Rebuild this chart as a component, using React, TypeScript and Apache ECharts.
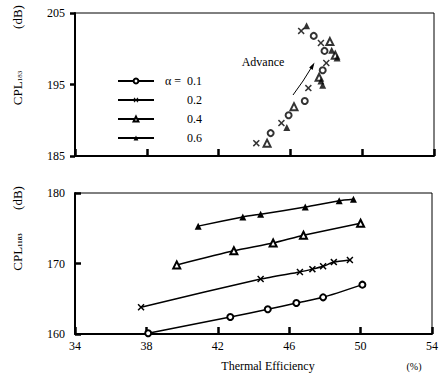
import React, { useEffect, useRef } from "react";
import * as echarts from "echarts";

// Top panel (scatter): [thermal efficiency %, CPL dB]
const topA01 = [[44.9, 188.2], [45.9, 190.7], [46.8, 192.7], [47.8, 197.0], [47.9, 199.7], [47.3, 201.8]];
const topA02 = [[44.1, 186.8], [45.5, 189.6], [47.0, 194.5], [48.0, 198.0], [47.7, 200.8], [46.6, 202.5]];
const topA04 = [[44.7, 186.8], [46.2, 191.9], [47.6, 196.0], [48.2, 201.0], [48.5, 199.1]];
const topA06 = [[45.8, 189.0], [47.7, 195.5], [47.8, 194.9], [48.3, 199.8], [48.6, 198.7], [46.9, 203.2]];

// Bottom panel (lines)
const botA01 = [[38.1, 160.1], [42.7, 162.4], [44.8, 163.5], [46.4, 164.4], [47.9, 165.2], [50.1, 167.0]];
const botA02 = [[37.7, 163.8], [44.4, 167.8], [46.6, 168.8], [47.3, 169.2], [47.9, 169.6], [48.5, 170.2], [49.4, 170.5]];
const botA04 = [[39.7, 169.8], [42.9, 171.8], [45.1, 172.9], [46.8, 174.0], [50.0, 175.7]];
const botA06 = [[40.9, 175.3], [43.4, 176.6], [44.4, 177.0], [46.9, 178.0], [48.8, 178.9], [49.6, 179.1]];

const alphaNames = ["0.1", "0.2", "0.4", "0.6"];
const xMin = 34, xMax = 54, xStep = 4;
const topYMin = 185, topYMax = 205, botYMin = 160, botYMax = 180, yStep = 10;

const FONT = "'Liberation Serif', 'DejaVu Serif', serif";
const X_PATH = "path://M0,1.5 L1.5,0 L5,3.5 L8.5,0 L10,1.5 L6.5,5 L10,8.5 L8.5,10 L5,6.5 L1.5,10 L0,8.5 L3.5,5 Z";

const symbolDefs = [
  { symbol: "emptyCircle", size: 6, itemStyle: { color: "#000", borderWidth: 1.6 } },
  { symbol: X_PATH, size: 7, itemStyle: { color: "#000", borderWidth: 0 } },
  { symbol: "emptyTriangle", size: 7, itemStyle: { color: "#000", borderWidth: 1.5 } },
  { symbol: "triangle", size: 7, itemStyle: { color: "#000", borderWidth: 0 } },
];

export default function App() {
  const ref = useRef<HTMLDivElement>(null);
  useEffect(() => {
    document.body.style.margin = "0";
    const chart = echarts.init(ref.current!, null, { renderer: "svg" });
    const botData = [botA01, botA02, botA04, botA06];
    const topData = [topA01, topA02, topA04, topA06];

    const series: any[] = [];
    botData.forEach((d, i) => {
      series.push({
        name: alphaNames[i],
        type: "line",
        xAxisIndex: 1,
        yAxisIndex: 1,
        data: d,
        smooth: 0.2,
        symbol: symbolDefs[i].symbol,
        symbolSize: symbolDefs[i].size,
        showSymbol: true,
        itemStyle: symbolDefs[i].itemStyle,
        lineStyle: { color: "#000", width: 1.5 },
      });
    });
    topData.forEach((d, i) => {
      series.push({
        name: alphaNames[i],
        type: "scatter",
        xAxisIndex: 0,
        yAxisIndex: 0,
        data: d,
        symbol: symbolDefs[i].symbol,
        symbolSize: symbolDefs[i].size,
        itemStyle: symbolDefs[i].itemStyle,
      });
    });

    const xTick = { show: true, inside: true, length: 7, lineStyle: { color: "#000", width: 2.5 } };

    chart.setOption({
      animation: false,
      backgroundColor: "#fff",
      grid: [
        { left: 75, top: 13, width: 359, height: 143, show: true, borderColor: "#000", borderWidth: 1 },
        { left: 75, top: 193, width: 359, height: 141, show: true, borderColor: "#000", borderWidth: 1 },
      ],
      xAxis: [
        {
          type: "value",
          gridIndex: 0,
          min: xMin,
          max: xMax,
          interval: xStep,
          splitLine: { show: false },
          axisLine: { show: true, lineStyle: { color: "#000", width: 2 } },
          axisTick: xTick,
          axisLabel: { show: false },
        },
        {
          type: "value",
          gridIndex: 1,
          min: xMin,
          max: xMax,
          interval: xStep,
          splitLine: { show: false },
          axisLine: { show: true, lineStyle: { color: "#000", width: 2 } },
          axisTick: xTick,
          axisLabel: { color: "#000", fontFamily: FONT, fontSize: 12, margin: 6 },
        },
      ],
      yAxis: [
        {
          type: "value",
          gridIndex: 0,
          min: topYMin,
          max: topYMax,
          interval: yStep,
          splitLine: { show: false },
          axisLine: { show: true, lineStyle: { color: "#000", width: 2 } },
          axisLabel: { color: "#000", fontFamily: FONT, fontSize: 12, margin: 10 },
          axisTick: { show: true, inside: false, length: 5, lineStyle: { color: "#000", width: 2.5 } },
        },
        {
          type: "value",
          gridIndex: 1,
          min: botYMin,
          max: botYMax,
          interval: yStep,
          splitLine: { show: false },
          axisLine: { show: true, lineStyle: { color: "#000", width: 2 } },
          axisLabel: { color: "#000", fontFamily: FONT, fontSize: 12, margin: 10 },
          axisTick: { show: true, inside: true, length: 6, lineStyle: { color: "#000", width: 2.5 } },
        },
      ],
      legend: {
        data: alphaNames,
        orient: "vertical",
        left: 112,
        top: 69,
        itemWidth: 36,
        itemHeight: 6,
        itemGap: 5,
        selectedMode: false,
        formatter: (name: string) => (name === "0.1" ? `{p|α =}{v|${name}}` : `{p| }{v|${name}}`),
        textStyle: {
          color: "#000",
          fontFamily: FONT,
          fontSize: 12,
          lineHeight: 14,
          rich: {
            p: { width: 28, align: "center", fontFamily: FONT, fontSize: 12, color: "#000" },
            v: { fontFamily: FONT, fontSize: 12, color: "#000" },
          },
        },
      },
      graphic: [
        {
          type: "text",
          x: 263,
          y: 62,
          style: { text: "Advance", font: `12px ${FONT}`, fill: "#000", align: "center", verticalAlign: "middle" },
        },
        {
          type: "bezierCurve",
          shape: { x1: 293, y1: 95, x2: 313, y2: 65, cpx1: 303, cpy1: 82 },
          style: { stroke: "#000", lineWidth: 1, fill: "none" },
        },
        {
          type: "polygon",
          shape: { points: [[314.5, 62.5], [312.6, 70], [309.2, 67.6]] },
          style: { fill: "#000" },
        },
        {
          type: "text",
          x: 268,
          y: 366,
          style: { text: "Thermal Efficiency", font: `12px ${FONT}`, fill: "#000", align: "center", verticalAlign: "middle" },
        },
        {
          type: "text",
          x: 414,
          y: 366,
          style: { text: "(%)", font: `10px ${FONT}`, fill: "#000", align: "center", verticalAlign: "middle" },
        },
        {
          type: "text",
          x: 17,
          y: 88,
          rotation: Math.PI / 2,
          style: {
            text: "{m|CPL}{s|183}",
            align: "center",
            verticalAlign: "middle",
            rich: {
              m: { font: `13px ${FONT}`, fill: "#000" },
              s: { font: `7px ${FONT}`, fill: "#000", padding: [6, 0, 0, 0] },
            },
          },
        },
        {
          type: "text",
          x: 17,
          y: 17,
          rotation: Math.PI / 2,
          style: { text: "(dB)", font: `13px ${FONT}`, fill: "#000", align: "center", verticalAlign: "middle" },
        },
        {
          type: "text",
          x: 17,
          y: 252,
          rotation: Math.PI / 2,
          style: {
            text: "{m|CPL}{s|1183}",
            align: "center",
            verticalAlign: "middle",
            rich: {
              m: { font: `13px ${FONT}`, fill: "#000" },
              s: { font: `bold 7px ${FONT}`, fill: "#000", padding: [6, 0, 0, 0] },
            },
          },
        },
        {
          type: "text",
          x: 17,
          y: 198,
          rotation: Math.PI / 2,
          style: { text: "(dB)", font: `13px ${FONT}`, fill: "#000", align: "center", verticalAlign: "middle" },
        },
      ],
      series,
    });

    return () => chart.dispose();
  }, []);
  return <div ref={ref} style={{ width: 441, height: 375 }} />;
}
